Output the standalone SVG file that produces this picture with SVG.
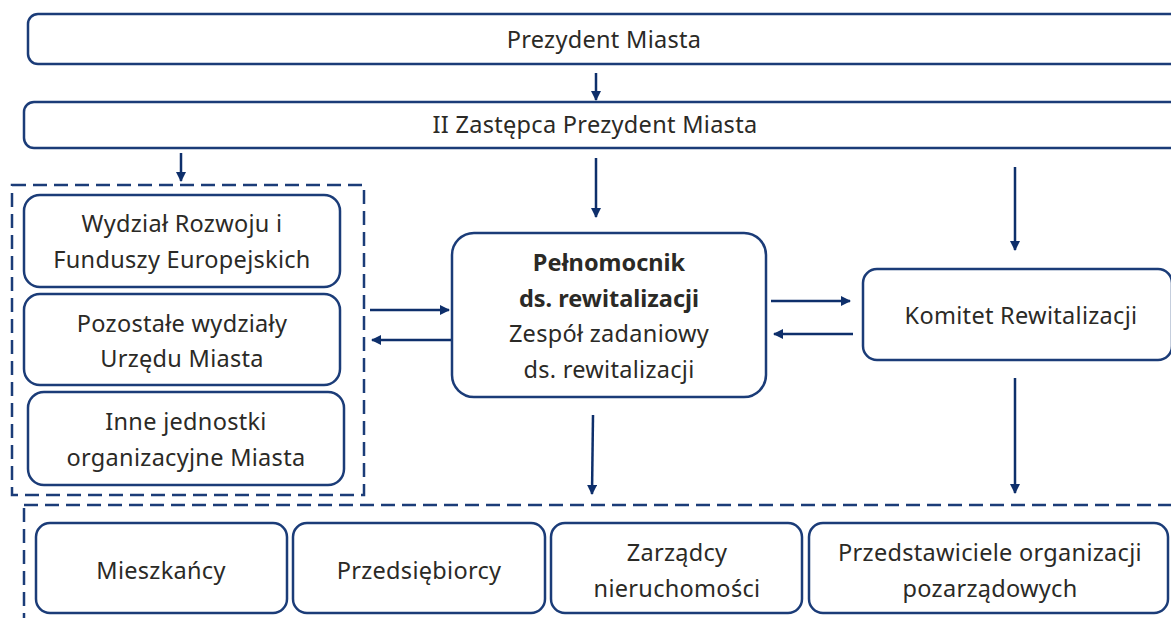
<svg xmlns="http://www.w3.org/2000/svg" width="1171" height="618" viewBox="0 0 1171 618">
<style>
.box{fill:#fff;stroke:#1b3c78;stroke-width:2.5}
.dash{fill:none;stroke:#1b3c78;stroke-width:2.5;stroke-dasharray:14 7}
.t{font-family:"Noto Sans","Liberation Sans",sans-serif;font-size:23.5px;letter-spacing:0.3px;fill:#2b2a26;text-anchor:middle}
.b{font-weight:bold;letter-spacing:0}
.c{stroke:#0e2f6b;stroke-width:2.5;fill:none;marker-end:url(#ah)}
</style>
<defs>
<marker id="ah" viewBox="0 0 10 10" refX="9" refY="5" markerWidth="4" markerHeight="4" orient="auto" markerUnits="strokeWidth">
<path d="M0,0 L10,5 L0,10 z" fill="#0e2f6b"/>
</marker>
</defs>
<rect width="1171" height="618" fill="#fff"/>
<g id="group-left"><rect class="dash" x="12" y="185" width="352" height="310"/></g>
<g id="group-bottom"><rect class="dash" x="24" y="505" width="1170" height="130"/></g>
<g id="prezydent"><rect class="box" x="28" y="14" width="1170" height="50" rx="10"/><text class="t" x="604" y="48">Prezydent Miasta</text></g>
<g id="zastepca"><rect class="box" x="24" y="102" width="1170" height="46" rx="10"/><text class="t" x="595" y="133">II Zastępca Prezydent Miasta</text></g>
<g id="wydzial"><rect class="box" x="24" y="195" width="316" height="92" rx="16"/><text class="t" x="182" y="232">Wydział Rozwoju i</text><text class="t" x="182" y="268">Funduszy Europejskich</text></g>
<g id="pozostale"><rect class="box" x="24" y="294" width="316" height="91" rx="16"/><text class="t" x="182" y="332">Pozostałe wydziały</text><text class="t" x="182" y="367">Urzędu Miasta</text></g>
<g id="inne"><rect class="box" x="28" y="392" width="316" height="93" rx="16"/><text class="t" x="186" y="430">Inne jednostki</text><text class="t" x="186" y="466">organizacyjne Miasta</text></g>
<g id="pelnomocnik"><rect class="box" x="452" y="233" width="314" height="164" rx="22"/><text class="t b" x="609" y="271">Pełnomocnik</text><text class="t b" x="609" y="307">ds. rewitalizacji</text><text class="t" x="609" y="342">Zespół zadaniowy</text><text class="t" x="609" y="378">ds. rewitalizacji</text></g>
<g id="komitet"><rect class="box" x="863" y="269" width="309" height="91" rx="14"/><text class="t" x="1021" y="324">Komitet Rewitalizacji</text></g>
<g id="mieszkancy"><rect class="box" x="36" y="523" width="251" height="90" rx="14"/><text class="t" x="161" y="579">Mieszkańcy</text></g>
<g id="przedsiebiorcy"><rect class="box" x="293" y="523" width="252" height="90" rx="14"/><text class="t" x="419" y="579">Przedsiębiorcy</text></g>
<g id="zarzadcy"><rect class="box" x="551" y="523" width="251" height="90" rx="14"/><text class="t" x="677" y="561">Zarządcy</text><text class="t" x="677" y="597">nieruchomości</text></g>
<g id="przedstawiciele"><rect class="box" x="809" y="523" width="359" height="90" rx="14"/><text class="t" x="990" y="561">Przedstawiciele organizacji</text><text class="t" x="990" y="597">pozarządowych</text></g>
<g id="connectors">
<line class="c" x1="596" y1="73" x2="596" y2="100"/>
<line class="c" x1="181" y1="153" x2="181" y2="181"/>
<line class="c" x1="596" y1="158" x2="596" y2="217"/>
<line class="c" x1="1015" y1="167" x2="1015" y2="250"/>
<line class="c" x1="370" y1="310" x2="449" y2="310"/>
<line class="c" x1="451" y1="340" x2="372" y2="340"/>
<line class="c" x1="771" y1="301" x2="850" y2="301"/>
<line class="c" x1="853" y1="334" x2="774" y2="334"/>
<line class="c" x1="593" y1="415" x2="592" y2="494"/>
<line class="c" x1="1015" y1="378" x2="1015" y2="493"/>
</g>
</svg>
